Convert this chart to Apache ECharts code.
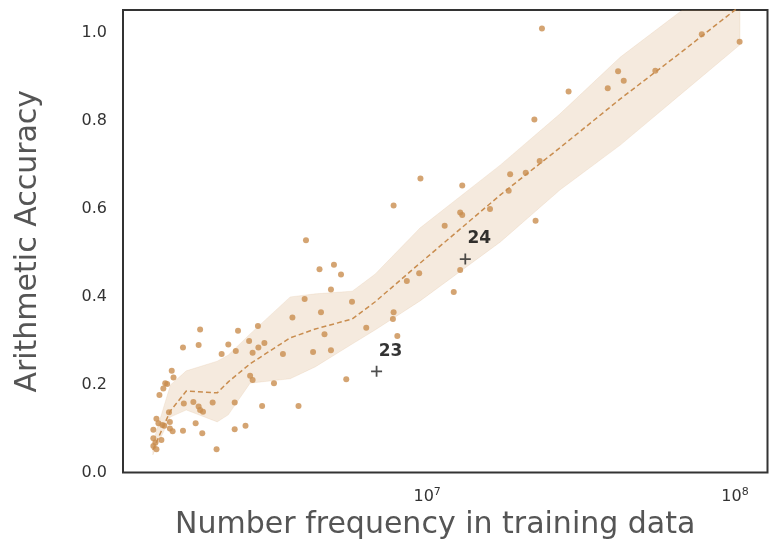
<!DOCTYPE html>
<html>
<head>
<meta charset="utf-8">
<script src="https://cdn.jsdelivr.net/npm/echarts@6/dist/echarts.min.js"></script>
<style>
  html, body { margin: 0; padding: 0; background: #fff; }
  #chart { width: 769px; height: 549px; }
</style>
</head>
<body>
<div id="chart"></div>
<script>
// scatter: number frequency in training data vs arithmetic accuracy
const freqX = [
  1.48e6, 1.50e6, 1.41e6, 1.43e6, 1.39e6, 1.35e6, 1.62e6, 1.74e6, 1.81e6, 1.83e6,
  1.87e6, 2.01e6, 1.45e6, 1.32e6, 1.46e6, 1.34e6, 1.38e6, 1.40e6, 1.29e6, 1.46e6,
  1.49e6, 1.61e6, 1.77e6, 1.86e6, 1.29e6, 1.37e6, 1.31e6, 1.29e6, 1.32e6, 2.07e6,
  1.61e6, 1.81e6, 1.83e6, 2.15e6, 2.37e6, 2.57e6, 4.87e6, 4.00e6, 5.70e6, 4.52e6,
  3.65e6, 2.82e6, 2.43e6, 4.64e6, 6.34e6, 2.26e6, 2.64e6, 2.96e6, 2.83e6, 2.39e6,
  2.71e6, 3.40e6, 4.26e6, 4.87e6, 2.66e6, 2.71e6, 3.18e6, 5.46e6, 2.37e6, 2.91e6,
  3.82e6, 4.04e6, 4.47e6, 4.98e6, 5.25e6, 9.51e6, 1.30e7, 7.78e6, 1.86e7, 2.09e7,
  2.32e7, 1.84e7, 1.28e7, 1.30e7, 1.60e7, 2.25e7, 1.14e7, 9.42e6, 8.59e6, 1.28e7,
  1.22e7, 7.78e6, 7.74e6, 8.00e6, 2.36e7, 2.88e7, 2.23e7, 3.86e7, 4.17e7, 4.35e7,
  5.51e7, 7.80e7, 1.035e8
];
const accY = [
  0.231, 0.216, 0.203, 0.201, 0.191, 0.176, 0.157, 0.160, 0.150, 0.142,
  0.138, 0.159, 0.137, 0.122, 0.115, 0.112, 0.108, 0.106, 0.097, 0.100,
  0.094, 0.095, 0.112, 0.089, 0.078, 0.074, 0.068, 0.060, 0.053, 0.053,
  0.284, 0.290, 0.325, 0.269, 0.098, 0.106, 0.416, 0.394, 0.388, 0.364,
  0.352, 0.333, 0.322, 0.314, 0.329, 0.291, 0.299, 0.294, 0.284, 0.276,
  0.272, 0.269, 0.274, 0.278, 0.220, 0.210, 0.203, 0.212, 0.159, 0.151,
  0.151, 0.528, 0.462, 0.472, 0.450, 0.668, 0.652, 0.607, 0.678, 0.681,
  0.708, 0.640, 0.591, 0.585, 0.599, 0.572, 0.561, 0.453, 0.435, 0.460,
  0.410, 0.364, 0.349, 0.310, 1.009, 0.866, 0.802, 0.873, 0.912, 0.890,
  0.913, 0.996, 0.979
];

// binned trend: mean and spread band
const bandX = [1.285e6, 1.465e6, 1.65e6, 2.08e6, 2.26e6, 2.66e6, 3.59e6, 4.33e6,
  5.71e6, 6.78e6, 9.49e6, 1.73e7, 2.70e7, 4.24e7, 6.63e7, 1.038e8];
const bandMean = [0.051, 0.140, 0.185, 0.181, 0.206, 0.247, 0.306, 0.326,
  0.349, 0.388, 0.476, 0.631, 0.738, 0.849, 0.953, 1.060];
const bandLow = [0.040, 0.126, 0.142, 0.115, 0.131, 0.203, 0.213, 0.240,
  0.292, 0.324, 0.390, 0.524, 0.642, 0.744, 0.858, 0.972];
const bandHigh = [0.067, 0.199, 0.231, 0.253, 0.267, 0.315, 0.399, 0.406,
  0.412, 0.451, 0.556, 0.699, 0.815, 0.944, 1.047, 1.153];

// highlighted models
const markX = [6.85e6, 1.33e7];
const markY = [0.230, 0.485];
const markLabels = ["23", "24"];

const yTicks = [0, 0.2, 0.4, 0.6, 0.8, 1.0];

const dotColor = "#c98d4f";
const chart = echarts.init(document.getElementById("chart"), null, { renderer: "canvas" });

// band polygon: upper edge left->right, lower edge right->left
function renderBand(params, api) {
  if (params.dataIndex !== 0) return;
  const upper = bandX.map((x, i) => api.coord([x, bandHigh[i]]));
  const lower = bandX.map((x, i) => api.coord([x, bandLow[i]])).reverse();
  const cs = params.coordSys;
  return {
    type: "group",
    children: [
      {
        type: "polygon",
        shape: { points: upper.concat(lower) },
        style: { fill: "rgba(205,150,90,0.2)", stroke: "rgba(205,150,90,0.12)", lineWidth: 1 },
        clipPath: {
          type: "rect",
          shape: { x: cs.x, y: cs.y, width: cs.width, height: cs.height },
        },
      },
    ],
  };
}

const option = {
  animation: false,
  textStyle: { fontFamily: "DejaVu Sans" },
  grid: {
    left: 123,
    right: 1.5,
    top: 10,
    bottom: 76.5,
    show: true,
    borderColor: "#333",
    borderWidth: 2,
    backgroundColor: "transparent",
  },
  xAxis: {
    type: "log",
    logBase: 10,
    min: 1.028e6,
    max: 1.275e8,
    name: "Number frequency in training data",
    nameLocation: "middle",
    nameGap: 38,
    nameTextStyle: {
      fontSize: 30,
      color: "#555",
      fontFamily: "DejaVu Sans",
      padding: [0, 20, 0, 0],
    },
    axisLine: { show: false },
    axisTick: { show: false },
    splitLine: { show: false },
    axisLabel: {
      margin: 14,
      showMinLabel: false,
      showMaxLabel: false,
      formatter: function (v) {
        const e = Math.log10(v);
        if (Math.abs(e - Math.round(e)) > 1e-6) return "";
        return "{b|10}{s|" + Math.round(e) + "}";
      },
      rich: {
        b: { fontSize: 16, color: "#333", lineHeight: 20 },
        s: { fontSize: 11, color: "#333", verticalAlign: "top", lineHeight: 12 },
      },
    },
  },
  yAxis: {
    type: "value",
    min: 0,
    max: 1.051,
    interval: 0.2,
    name: "Arithmetic Accuracy",
    nameLocation: "middle",
    nameGap: 80,
    nameTextStyle: { fontSize: 30, color: "#555", fontFamily: "DejaVu Sans" },
    axisLine: { show: false },
    axisTick: { show: false },
    splitLine: { show: false },
    axisLabel: {
      margin: 16,
      fontSize: 16,
      color: "#333",
      showMaxLabel: false,
      formatter: function (v) {
        return yTicks.some((t) => Math.abs(t - v) < 1e-9) ? v.toFixed(1) : "";
      },
    },
  },
  series: [
    {
      name: "band",
      type: "custom",
      silent: true,
      renderItem: renderBand,
      data: bandX.map((x, i) => [x, bandLow[i], bandHigh[i]]),
      encode: { x: 0, y: [1, 2] },
      z: 1,
    },
    {
      name: "mean",
      type: "line",
      symbol: "none",
      lineStyle: { color: dotColor, width: 1.5, type: [5, 3] },
      data: bandX.map((x, i) => [x, bandMean[i]]),
      z: 3,
    },
    {
      name: "models",
      type: "scatter",
      symbolSize: 6,
      itemStyle: { color: dotColor },
      data: freqX.map((x, i) => [x, accY[i]]),
      z: 4,
    },
    {
      name: "marked",
      type: "scatter",
      symbol: "path://M4.2,0H5.8V4.2H10V5.8H5.8V10H4.2V5.8H0V4.2H4.2Z",
      symbolSize: 11,
      itemStyle: { color: "#222" },
      label: {
        show: true,
        position: "inside",
        offset: [14, -20],
        formatter: (p) => markLabels[p.dataIndex],
        fontSize: 17,
        fontWeight: "bold",
        color: "#000",
      },
      data: markX.map((x, i) => [x, markY[i]]),
      z: 5,
    },
  ],
};

chart.setOption(option);
</script>
</body>
</html>
